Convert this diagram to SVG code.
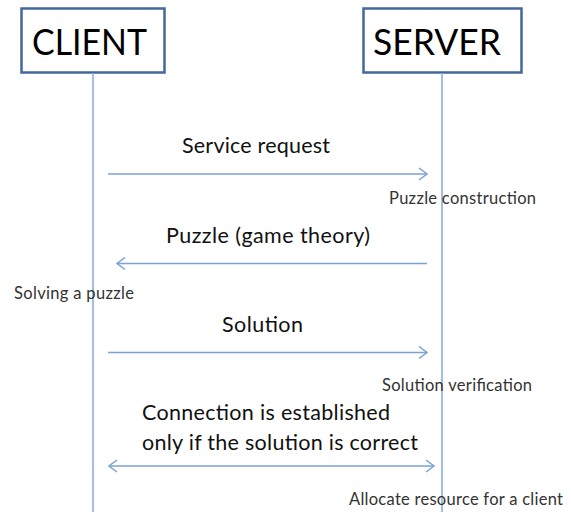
<svg xmlns="http://www.w3.org/2000/svg" width="571" height="512" viewBox="0 0 571 512">
<style>
.box{fill:#fff;stroke:#44689a;stroke-width:2.5}
.life{stroke:#8cb0de;stroke-width:1.6;fill:none}
.msg{stroke:#7aa2d6;stroke-width:1.5;fill:none}
.title{font-family:Lato,"Open Sans",sans-serif;font-size:37px;fill:#000}
.lbl{font-family:Lato,"Open Sans",sans-serif;font-size:21.5px;fill:#111}
.note{font-family:Lato,"Open Sans",sans-serif;font-size:16.5px;fill:#333}
</style>
<defs>
<marker id="arr" markerWidth="12" markerHeight="14" refX="10" refY="7" orient="auto-start-reverse" markerUnits="userSpaceOnUse">
<path d="M2,1 L10,7 L2,13" fill="none" stroke="#7aa2d6" stroke-width="1.5"/>
</marker>
</defs>
<g id="client">
<rect class="box" x="21.5" y="8.5" width="143" height="64"/>
<text class="title" x="32" y="55" textLength="115" lengthAdjust="spacingAndGlyphs">CLIENT</text>
</g>
<g id="server">
<rect class="box" x="363.5" y="8.5" width="158" height="64"/>
<text class="title" x="373" y="55" textLength="128" lengthAdjust="spacingAndGlyphs">SERVER</text>
</g>
<g id="connectors">
<line class="life" x1="93" y1="73" x2="93" y2="512"/>
<line class="life" x1="442" y1="73" x2="442" y2="512"/>
<line class="msg" x1="108" y1="174" x2="427" y2="174" marker-end="url(#arr)"/>
<line class="msg" x1="427" y1="263.5" x2="117" y2="263.5" marker-end="url(#arr)"/>
<line class="msg" x1="108" y1="352.5" x2="427" y2="352.5" marker-end="url(#arr)"/>
<line class="msg" x1="109" y1="466" x2="434" y2="466" marker-start="url(#arr)" marker-end="url(#arr)"/>
</g>
<g id="labels">
<text class="lbl" x="182" y="153" textLength="148">Service request</text>
<text class="note" x="389" y="204" textLength="147">Puzzle construction</text>
<text class="lbl" x="166" y="243" textLength="204">Puzzle (game theory)</text>
<text class="note" x="14" y="299" textLength="120">Solving a puzzle</text>
<text class="lbl" x="222" y="332" textLength="81">Solution</text>
<text class="note" x="382" y="391" textLength="150">Solution verification</text>
<text class="lbl" x="142" y="420" textLength="248">Connection is established</text>
<text class="lbl" x="142" y="450" textLength="276">only if the solution is correct</text>
<text class="note" x="349" y="505" textLength="214">Allocate resource for a client</text>
</g>
</svg>
